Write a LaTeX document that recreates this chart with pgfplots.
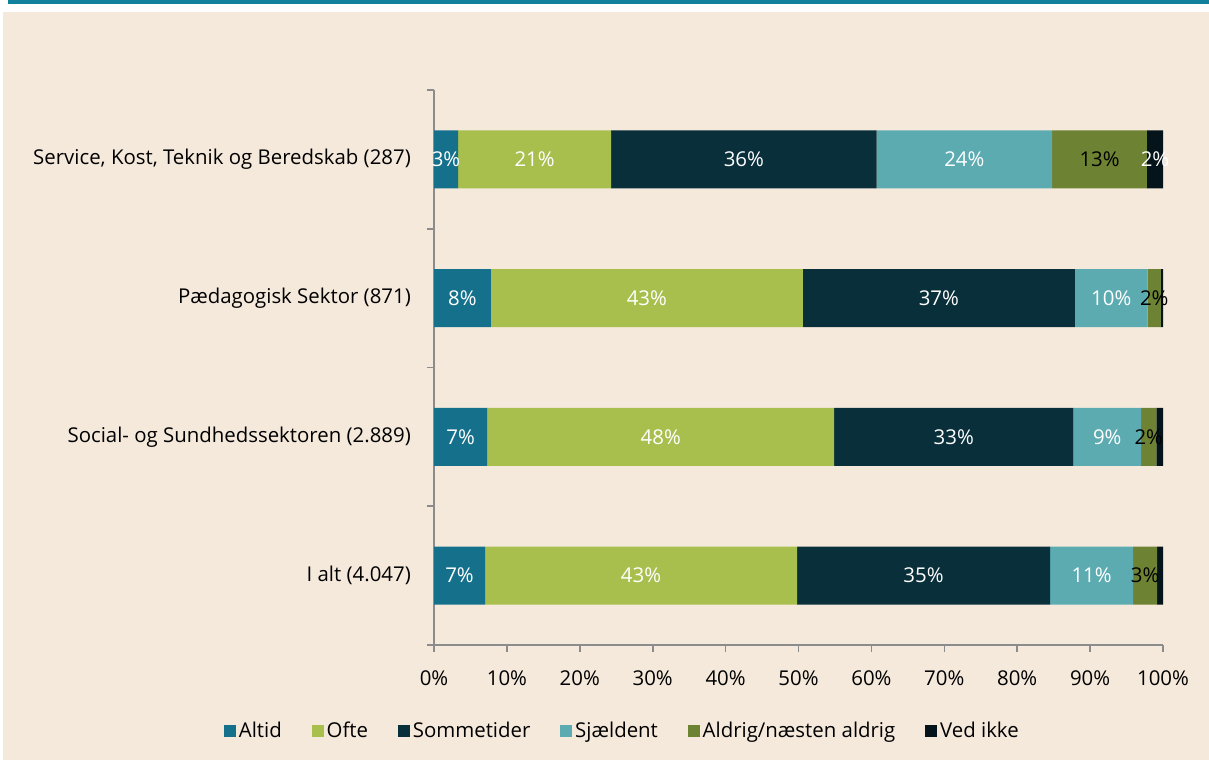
\documentclass[border=0pt]{standalone}
\usepackage{pgfplots}
\pgfplotsset{compat=1.18}
\usepackage{pgfplotstable}
\usepackage{fontspec}
\setmainfont{Open Sans}

\definecolor{bg}{HTML}{F5E9DC}
\definecolor{topline}{HTML}{13809E}
\definecolor{altid}{HTML}{15708C}
\definecolor{ofte}{HTML}{A8BF4E}
\definecolor{somme}{HTML}{082F3A}
\definecolor{sjaeld}{HTML}{5BABB1}
\definecolor{aldrig}{HTML}{6E8233}
\definecolor{vedikke}{HTML}{05141B}
\definecolor{axisgray}{HTML}{8C8C8C}

% shares in percent, y: 0 = I alt (bottom) ... 3 = Service (top)
\pgfplotstableread{
y altid ofte somme sjaeld aldrig ved vedlab
0 7.0 42.8 34.7 11.4 3.3 0.8 {}
1 7.3 47.6 32.8 9.3 2.1 0.9 {}
2 7.8 42.8 37.3 10.0 1.8 0.3 {}
3 3.3 21.0 36.4 24.1 13.0 2.2 2\%
}\results

\pgfplotsset{pct/.style={point meta=explicit,
  nodes near coords={\pgfmathprintnumber[fixed,precision=0]{\pgfplotspointmeta}\%},
  every node near coord/.append style={text=#1}}}

\begin{document}
\fontsize{10.2pt}{12pt}\selectfont
\begin{tikzpicture}
\fill[white] (0,0) rectangle (604.5pt,380pt);
\fill[bg] (1.5pt,0) rectangle (604.5pt,374pt);
\fill[topline] (4pt,378pt) rectangle (604.5pt,380pt);
\path[use as bounding box] (0,0) rectangle (604.5pt,380pt);
\begin{axis}[
  at={(217pt,57.5pt)}, anchor=south west,
  scale only axis, width=364.5pt, height=277.5pt,
  xbar stacked, bar width=29pt,
  xmin=0, xmax=100, ymin=-0.5, ymax=3.5,
  axis x line*=bottom, axis y line*=left,
  axis line style={axisgray, line width=0.8pt},
  tick style={axisgray, line width=0.8pt},
  tick align=outside, major tick length=3.5pt,
  xtick={0,10,...,100},
  xticklabels={0\%,10\%,20\%,30\%,40\%,50\%,60\%,70\%,80\%,90\%,100\%},
  xticklabel style={yshift=-6pt},
  ytick={-0.5,0.5,1.5,2.5,3.5}, yticklabels={},
  extra y ticks={0,1,2,3},
  extra y tick labels={I alt (4.047),Social- og Sundhedssektoren (2.889),Pædagogisk Sektor (871),{Service, Kost, Teknik og Beredskab (287)}},
  extra y tick style={major tick length=0pt, yticklabel style={xshift=-8pt}},
  /pgf/number format/assume math mode=true,
  legend style={at={(0.259,-0.155)}, anchor=center, draw=none, fill=none,
    legend columns=-1, /tikz/every even column/.append style={column sep=13.4pt},
    nodes={inner sep=1.5pt}},
  legend image code/.code={\fill[#1] (0pt,-3pt) rectangle (6pt,3pt);},
  every node near coord/.append style={anchor=center},
]
\addplot[fill=altid, draw=none, pct=white] table[x=altid, y=y, meta=altid] {\results};
\addplot[fill=ofte, draw=none, pct=white] table[x=ofte, y=y, meta=ofte] {\results};
\addplot[fill=somme, draw=none, pct=white] table[x=somme, y=y, meta=somme] {\results};
\addplot[fill=sjaeld, draw=none, pct=white] table[x=sjaeld, y=y, meta=sjaeld] {\results};
\addplot[fill=aldrig, draw=none, pct=black] table[x=aldrig, y=y, meta=aldrig] {\results};
\addplot[fill=vedikke, draw=none, point meta=explicit symbolic, nodes near coords,
  every node near coord/.append style={text=white}] table[x=ved, y=y, meta=vedlab] {\results};
\legend{Altid,Ofte,Sommetider,Sjældent,Aldrig/næsten aldrig,Ved ikke}
\end{axis}
\end{tikzpicture}
\end{document}
